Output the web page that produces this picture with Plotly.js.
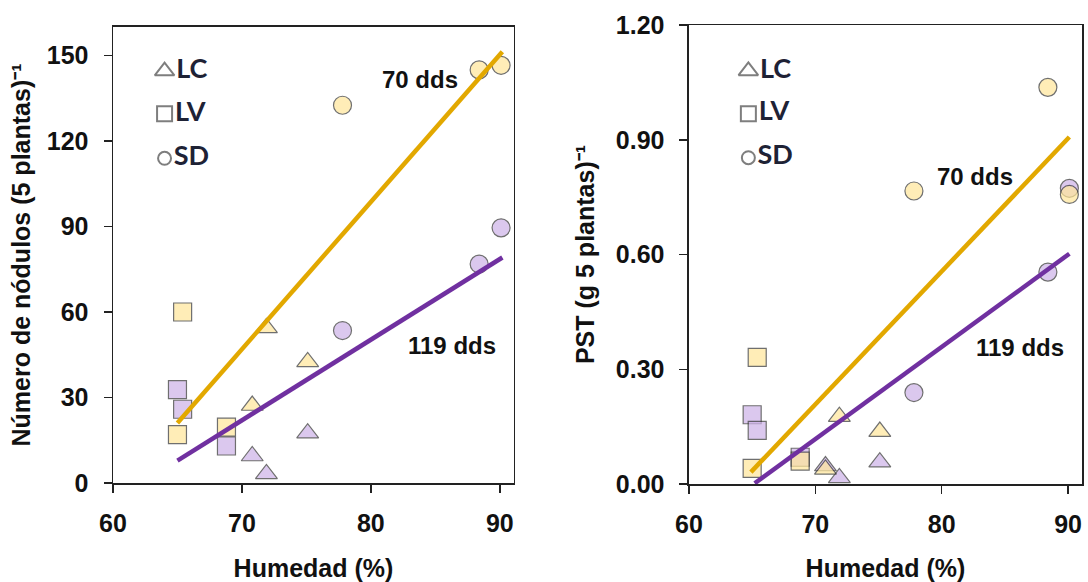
<!DOCTYPE html>
<html>
<head>
<meta charset="utf-8">
<script src="https://cdn.plot.ly/plotly-3.0.1.min.js"></script>
<style>html,body{margin:0;padding:0;background:#fff;}#chart{width:1088px;height:582px;}</style>
</head>
<body>
<div id="chart"></div>
<script>
// ---- data ----
const siteLabels = ['LC', 'LV', 'SD'];
const humLC = [70.8, 71.9, 75.1];
const humLV = [65.0, 65.4, 68.8];
const humSD = [77.8, 88.4, 90.1];

// Número de nódulos (5 plantas)^-1
const nod70LC = [27.2, 54.4, 42.5];
const nod70LV = [17.0, 60.0, 19.6];
const nod70SD = [132.5, 144.9, 146.5];
const nod119LC = [9.5, 3.2, 17.5];
const nod119LV = [32.8, 25.9, 13.0];
const nod119SD = [53.5, 76.8, 89.5];

// PST (g 5 plantas)^-1
const pst70LC = [0.038, 0.176, 0.137];
const pst70LV = [0.041, 0.331, 0.060];
const pst70SD = [0.766, 1.037, 0.757];
const pst119LC = [0.047, 0.016, 0.057];
const pst119LV = [0.181, 0.140, 0.070];
const pst119SD = [0.239, 0.554, 0.773];

// regression lines (end points)
const trendNod70X = [65.0, 90.2];
const trendNod70Y = [21.1, 151.3];
const trendNod119X = [65.0, 90.2];
const trendNod119Y = [7.9, 79.1];
const trendPst70X = [64.9, 90.1];
const trendPst70Y = [0.031, 0.907];
const trendPst119X = [65.2, 90.1];
const trendPst119Y = [0.002, 0.602];

const xTicks = [60, 70, 80, 90];
const nodTicks = [0, 30, 60, 90, 120, 150];
const pstTicks = [0, 0.3, 0.6, 0.9, 1.2];

// ---- styles ----
const YEL_FILL = '#FFE699', PUR_FILL = '#CDB2E8';
const YEL_LINE = '#E2A800', PUR_LINE = '#7030A0';
const EDGE = '#333333';
const FONT = 'Liberation Sans, Arial, sans-serif';
const symFor = {LC: 'triangle-up', LV: 'square', SD: 'circle'};
const sizeFor = {LC: 19, LV: 18, SD: 18};

function groupTrace(xa, ya, yLC, yLV, ySD, fill, name) {
  const x = [].concat(humLC, humLV, humSD);
  const y = [].concat(yLC, yLV, ySD);
  const sites = [].concat(humLC.map(() => 'LC'), humLV.map(() => 'LV'), humSD.map(() => 'SD'));
  return {
    type: 'scatter', mode: 'markers', name: name, xaxis: xa, yaxis: ya,
    x: x, y: y, cliponaxis: false, showlegend: false,
    marker: {symbol: sites.map(s => symFor[s]), size: sites.map(s => sizeFor[s]),
             color: fill, line: {color: EDGE, width: 1.2}}
  };
}
function lineTrace(xa, ya, x, y, color) {
  return {type: 'scatter', mode: 'lines', xaxis: xa, yaxis: ya, x: x, y: y,
          showlegend: false, line: {color: color, width: 4.5}};
}
function keyTrace(xa, ya, xPos, yPos) {
  return {type: 'scatter', mode: 'markers+text', xaxis: xa, yaxis: ya, showlegend: false,
    x: [xPos, xPos, xPos], y: yPos, text: siteLabels, textposition: 'middle right',
    cliponaxis: false,
    textfont: {family: 'Lato, Liberation Sans, sans-serif', size: 27, weight: 'bold', color: '#1e2235'},
    marker: {symbol: ['triangle-up-open', 'square-open', 'circle-open'], size: [17, 15, 13],
             color: '#474747', line: {width: 2, color: '#474747'}}};
}

const data = [
  groupTrace('x', 'y', nod119LC, nod119LV, nod119SD, PUR_FILL, '119 dds'),
  groupTrace('x', 'y', nod70LC, nod70LV, nod70SD, YEL_FILL, '70 dds'),
  lineTrace('x', 'y', trendNod119X, trendNod119Y, PUR_LINE),
  lineTrace('x', 'y', trendNod70X, trendNod70Y, YEL_LINE),
  keyTrace('x', 'y', 64.0, [144.5, 129.5, 113.9]),
  groupTrace('x2', 'y2', pst119LC, pst119LV, pst119SD, PUR_FILL, '119 dds'),
  groupTrace('x2', 'y2', pst70LC, pst70LV, pst70SD, YEL_FILL, '70 dds'),
  lineTrace('x2', 'y2', trendPst119X, trendPst119Y, PUR_LINE),
  lineTrace('x2', 'y2', trendPst70X, trendPst70Y, YEL_LINE),
  keyTrace('x2', 'y2', 64.7, [1.080, 0.968, 0.853])
];

const tickFont = {family: FONT, size: 25, weight: 'bold', color: '#111'};
const titleFont = {family: FONT, size: 25, weight: 'bold', color: '#111'};
const annFont = {family: FONT, size: 24, weight: 'bold', color: '#111'};
function xAxis(domain, anchor) {
  return {domain: domain, anchor: anchor, range: [60, 91.1], tickvals: xTicks,
    showline: true, mirror: true, linecolor: '#222', linewidth: 1.5,
    ticks: 'outside', ticklen: 8, tickwidth: 1.5, tickcolor: '#222',
    showgrid: false, zeroline: false, tickfont: tickFont, ticklabelstandoff: 9,
    title: {text: 'Humedad (%)', font: titleFont, standoff: 26}};
}
const layout = {
  width: 1088, height: 582,
  margin: {l: 113, r: 6, t: 25, b: 98},
  paper_bgcolor: '#fff', plot_bgcolor: '#fff',
  showlegend: false,
  xaxis: xAxis([0, 0.4138], 'y'),
  xaxis2: xAxis([0.5944, 1], 'y2'),
  yaxis: {domain: [0.002, 0.996], anchor: 'x', range: [0, 160], tickvals: nodTicks,
    showline: true, mirror: true, linecolor: '#222', linewidth: 1.5,
    ticks: 'outside', ticklen: 8, tickwidth: 1.5, tickcolor: '#222',
    showgrid: false, zeroline: false, tickfont: tickFont, ticklabelstandoff: 10,
    title: {text: 'Número de nódulos (5 plantas)⁻¹', font: titleFont, standoff: 9}},
  yaxis2: {domain: [0, 1], anchor: 'x2', range: [0, 1.2], tickvals: pstTicks, tickformat: '.2f',
    showline: true, mirror: true, linecolor: '#222', linewidth: 1.5,
    ticks: 'outside', ticklen: 8, tickwidth: 1.5, tickcolor: '#222',
    showgrid: false, zeroline: false, tickfont: tickFont, ticklabelstandoff: 10,
    title: {text: 'PST (g 5 plantas)⁻¹', font: titleFont, standoff: 14}},
  annotations: [
    {xref: 'x', yref: 'y', x: 83.8, y: 141.5, text: '70 dds', showarrow: false, font: annFont},
    {xref: 'x', yref: 'y', x: 86.3, y: 48.3, text: '119 dds', showarrow: false, font: annFont},
    {xref: 'x2', yref: 'y2', x: 82.6, y: 0.805, text: '70 dds', showarrow: false, font: annFont},
    {xref: 'x2', yref: 'y2', x: 86.2, y: 0.358, text: '119 dds', showarrow: false, font: annFont}
  ]
};
Plotly.newPlot('chart', data, layout, {staticPlot: true, displayModeBar: false});
</script>
</body>
</html>
